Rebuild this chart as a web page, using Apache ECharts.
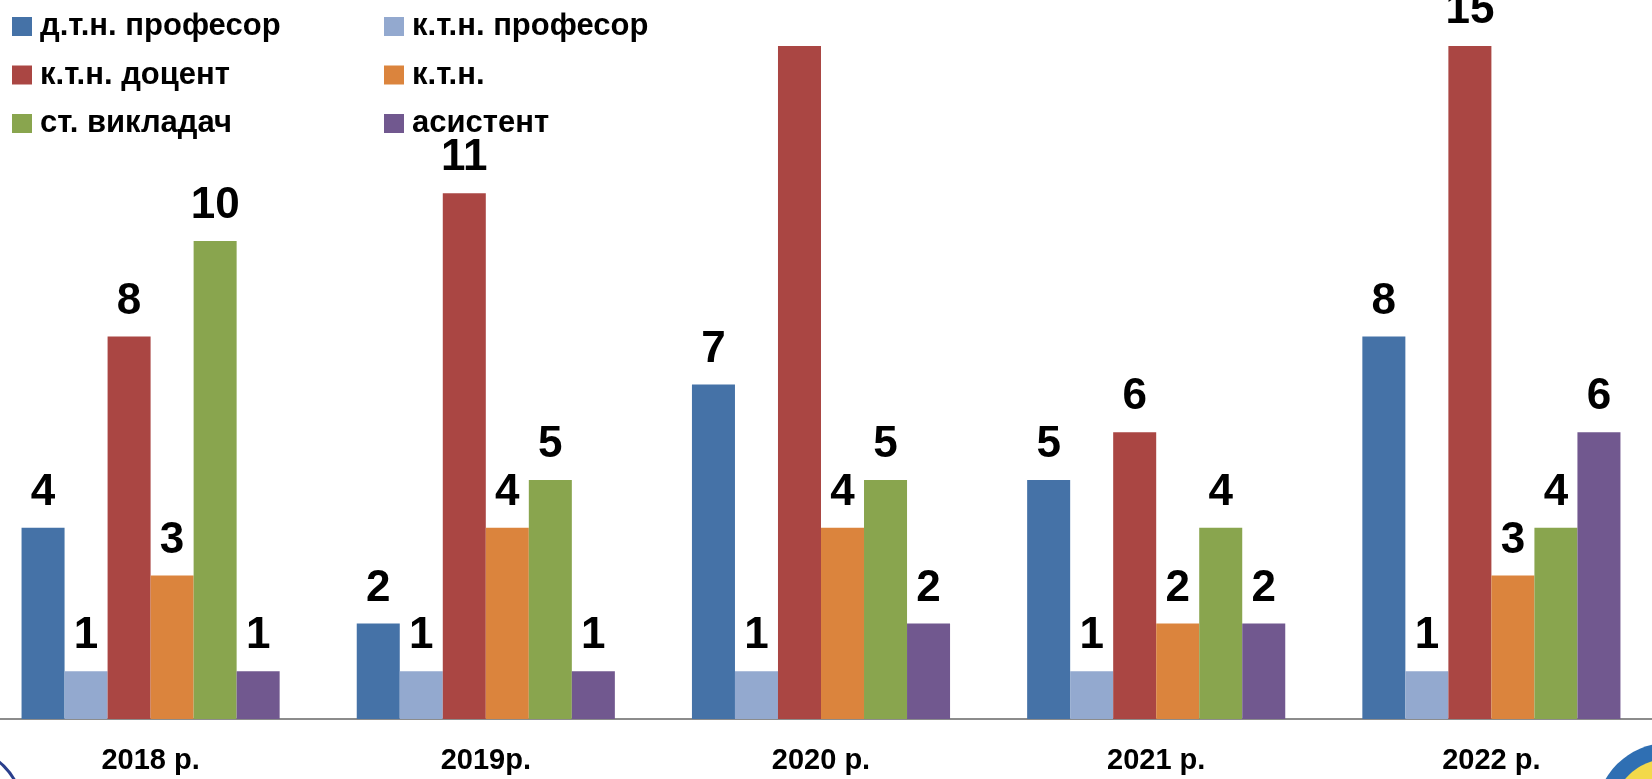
<!DOCTYPE html>
<html>
<head>
<meta charset="utf-8">
<script src="https://cdn.jsdelivr.net/npm/echarts@6/dist/echarts.min.js"></script>
<style>
html,body{margin:0;padding:0;background:#fff;}
#chart{width:1652px;height:779px;}
</style>
</head>
<body>
<div id="chart"></div>
<script>
const categories = ['2018 р.', '2019р.', '2020 р.', '2021 р.', '2022 р.'];
const seriesNames = ['д.т.н. професор', 'к.т.н. професор', 'к.т.н. доцент', 'к.т.н.', 'ст. викладач', 'асистент'];
const dtnProfesor = [4, 2, 7, 5, 8];
const ktnProfesor = [1, 1, 1, 1, 1];
const ktnDocent = [8, 11, 15, 6, 15];
const ktn = [3, 4, 4, 2, 3];
const stVykladach = [10, 5, 5, 4, 4];
const asystent = [1, 1, 2, 2, 6];
// labels not shown in the reference: [seriesIndex, categoryIndex]
const hiddenLabels = [[2, 2]];

const colors = ['#4572A7', '#93A9CF', '#AA4643', '#DB843D', '#89A54E', '#71588F'];
const allValues = [dtnProfesor, ktnProfesor, ktnDocent, ktn, stVykladach, asystent];
const font = '"Liberation Sans", Arial, sans-serif';

const series = allValues.map((vals, si) => ({
  name: seriesNames[si],
  type: 'bar',
  barGap: '0%',
  barCategoryGap: '23%',
  clip: true,
  itemStyle: { color: colors[si] },
  label: {
    show: true,
    position: 'top',
    distance: 13,
    color: '#000',
    fontFamily: font,
    fontWeight: 'bold',
    fontSize: 44
  },
  data: vals.map((v, ci) => hiddenLabels.some(h => h[0] === si && h[1] === ci)
    ? { value: v, label: { show: false } } : v)
}));

const legendText = { color: '#000', fontFamily: font, fontWeight: 'bold', fontSize: 31, lineHeight: 30, padding: [0, 0, 0, 3] };
const chart = echarts.init(document.getElementById('chart'));
chart.setOption({
  animation: false,
  color: colors,
  grid: { left: -17, width: 1676, top: 46, bottom: 60, containLabel: false, outerBoundsMode: 'none' },
  legend: [
    { data: [seriesNames[0], seriesNames[2], seriesNames[4]], orient: 'vertical', left: 12, top: 11,
      itemWidth: 20, itemHeight: 19, itemGap: 17.5, icon: 'rect', textStyle: legendText, padding: 0 },
    { data: [seriesNames[1], seriesNames[3], seriesNames[5]], orient: 'vertical', left: 384, top: 11,
      itemWidth: 20, itemHeight: 19, itemGap: 17.5, icon: 'rect', textStyle: legendText, padding: 0 }
  ],
  xAxis: {
    type: 'category',
    data: categories,
    axisLine: { show: true, lineStyle: { color: '#8c8c8c', width: 2 } },
    axisTick: { show: false },
    axisLabel: { color: '#000', fontFamily: font, fontWeight: 'bold', fontSize: 29, margin: 27 }
  },
  yAxis: {
    type: 'value', min: 0, max: 14.08, show: false, splitLine: { show: false }
  },
  graphic: [
    { type: 'circle', shape: { cx: -40, cy: 810, r: 62 }, style: { fill: '#fff', stroke: '#2b3f8c', lineWidth: 3 }, z: 100 },
    { type: 'circle', shape: { cx: 1668, cy: 815, r: 72 }, style: { fill: '#2f6fb3' }, z: 100 },
    { type: 'circle', shape: { cx: 1668, cy: 815, r: 56 }, style: { fill: '#f3d94a' }, z: 101 }
  ],
  series: series
});
</script>
</body>
</html>
